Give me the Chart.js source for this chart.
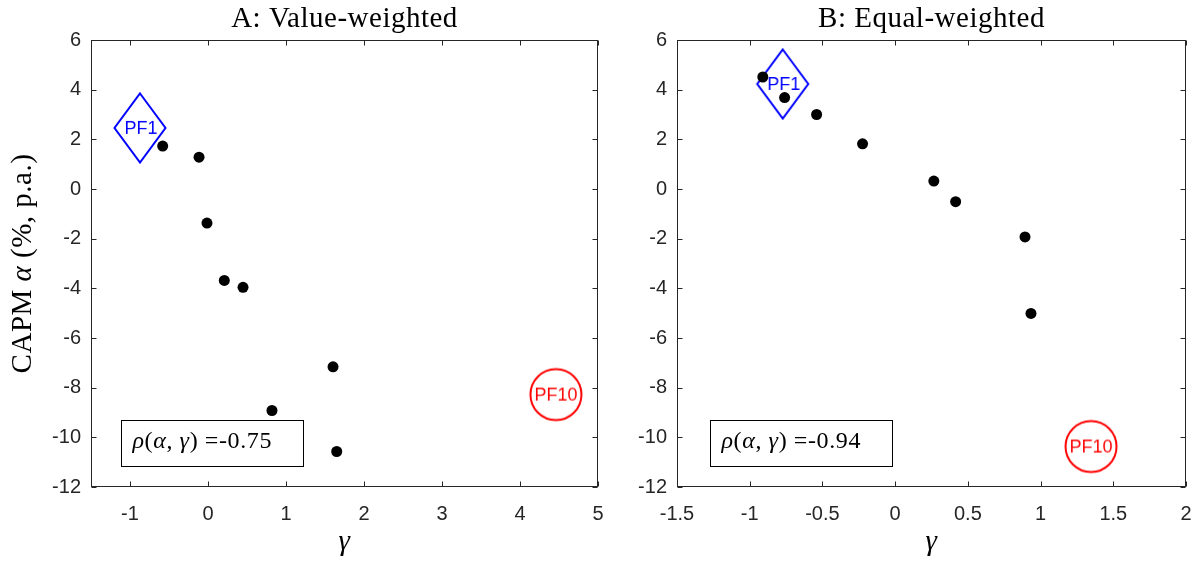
<!DOCTYPE html>
<html><head><meta charset="utf-8">
<script src="https://cdn.jsdelivr.net/npm/chart.js@4.4.1/dist/chart.umd.min.js"></script>
<style>
html,body{margin:0;padding:0;background:#fff;}
#wrap{position:relative;width:1203px;height:566px;overflow:hidden;background:#fff;}
canvas{position:absolute;top:0;}
</style></head><body>
<div id="wrap">
<canvas id="cA" width="620" height="566" style="left:0px"></canvas>
<canvas id="cB" width="603" height="566" style="left:600px"></canvas>
</div>
<script>
// ---------- DATA ----------
// Panel A: value-weighted (portfolios 2..9 as black dots)
const gammaA = [-0.581, -0.115, -0.013, 0.209, 0.449, 1.603, 0.82, 1.65];
const alphaA = [1.73, 1.28, -1.37, -3.68, -3.96, -7.16, -8.92, -10.57];
// PF1 and PF10 (gamma, alpha)
const pfGammaA = [-0.872, 4.46];
const pfAlphaA = [2.46, -8.28];
const rhoA = "-0.75";

// Panel B: equal-weighted
const gammaB = [-0.91, -0.76, -0.54, -0.224, 0.266, 0.416, 0.893, 0.934];
const alphaB = [4.51, 3.68, 3.0, 1.82, 0.32, -0.51, -1.93, -5.01];
const pfGammaB = [-0.773, 1.347];
const pfAlphaB = [4.23, -10.37];
const rhoB = "-0.94";

const pfLabels = ["PF1", "PF10"];
const titles = ["A: Value-weighted", "B: Equal-weighted"];
const xTicksA = [-1, 0, 1, 2, 3, 4, 5];
const xTicksB = [-1.5, -1, -0.5, 0, 0.5, 1, 1.5, 2];
const yTicks = [-12, -10, -8, -6, -4, -2, 0, 2, 4, 6];

// ---------- MARKER IMAGES ----------
function diamondMarker(label) {
  const c = document.createElement('canvas');
  c.width = 58; c.height = 76;
  const g = c.getContext('2d');
  const cx = 29, cy = 38, hw = 25.5, hh = 34.5;
  g.strokeStyle = '#0000ff'; g.lineWidth = 2; g.lineJoin = 'miter';
  g.beginPath();
  g.moveTo(cx, cy - hh); g.lineTo(cx + hw, cy); g.lineTo(cx, cy + hh); g.lineTo(cx - hw, cy); g.closePath();
  g.stroke();
  g.fillStyle = '#0000ff'; g.font = '18px "Liberation Sans", Arial, sans-serif';
  g.textAlign = 'center'; g.textBaseline = 'middle';
  g.fillText(label, cx + 1, cy + 1);
  return c;
}
function circleMarker(label) {
  const c = document.createElement('canvas');
  c.width = 58; c.height = 58;
  const g = c.getContext('2d');
  g.strokeStyle = '#ff0000'; g.lineWidth = 2;
  g.beginPath(); g.arc(29, 29, 25.5, 0, Math.PI * 2); g.stroke();
  g.fillStyle = '#ff0000'; g.font = '18px "Liberation Sans", Arial, sans-serif';
  g.textAlign = 'center'; g.textBaseline = 'middle';
  g.fillText(label, 29, 30);
  return c;
}

// ---------- TEXT HELPERS ----------
const SERIF = '"Liberation Serif", "Times New Roman", serif';
function segWidth(ctx, segs, size) {
  let w = 0;
  segs.forEach(s => { ctx.font = (s.it ? 'italic ' : '') + size + 'px ' + SERIF; w += ctx.measureText(s.t).width; });
  return w;
}
function drawSegs(ctx, segs, size, x, y) {
  let cx = x;
  segs.forEach(s => {
    ctx.font = (s.it ? 'italic ' : '') + size + 'px ' + SERIF;
    ctx.fillText(s.t, cx, y);
    cx += ctx.measureText(s.t).width;
  });
}

// ---------- FRAME / ANNOTATION PLUGIN ----------
const framePlugin = {
  id: 'frame',
  afterDraw(chart, args, opts) {
    const { ctx, chartArea: a, scales: { x, y } } = chart;
    ctx.save();
    // box
    ctx.strokeStyle = '#262626'; ctx.lineWidth = 1;
    const L = Math.round(a.left) + 0.5, R = Math.round(a.right) - 0.5;
    const T = Math.round(a.top) + 0.5, B = Math.round(a.bottom) - 0.5;
    ctx.strokeRect(L, T, R - L, B - T);
    const tl = 5;
    ctx.beginPath();
    x.ticks.forEach(t => {
      const px = Math.round(x.getPixelForValue(t.value)) + 0.5;
      ctx.moveTo(px, B); ctx.lineTo(px, B - tl);
      ctx.moveTo(px, T); ctx.lineTo(px, T + tl);
    });
    y.ticks.forEach(t => {
      const py = Math.round(y.getPixelForValue(t.value)) + 0.5;
      ctx.moveTo(L, py); ctx.lineTo(L + tl, py);
      ctx.moveTo(R, py); ctx.lineTo(R - tl, py);
    });
    ctx.stroke();

    // title
    ctx.fillStyle = '#000';
    ctx.textAlign = 'center'; ctx.textBaseline = 'alphabetic';
    ctx.letterSpacing = '0.5px';
    ctx.font = '29px ' + SERIF;
    ctx.fillText(opts.title, (a.left + a.right) / 2, 27);

    // x label
    ctx.font = 'italic 29px ' + SERIF;
    ctx.fillText('\u03B3', (a.left + a.right) / 2, 550);

    // y label
    if (opts.ylabel) {
      const segs = [{ t: 'CAPM ', it: false }, { t: '\u03B1', it: true }, { t: ' (%, p.a.)', it: false }];
      const w = segWidth(ctx, segs, 29);
      ctx.save();
      ctx.translate(31, (a.top + a.bottom) / 2);
      ctx.rotate(-Math.PI / 2);
      ctx.textAlign = 'left';
      drawSegs(ctx, segs, 29, -w / 2, 0);
      ctx.restore();
    }

    // correlation box
    const bw = a.right - a.left, bh = a.bottom - a.top;
    const bx = Math.round(a.left + opts.box[0] * bw) + 0.5;
    const by = Math.round(a.top + opts.box[1] * bh) + 0.5;
    const bW = Math.round(opts.box[2] * bw), bH = Math.round(opts.box[3] * bh);
    ctx.strokeStyle = '#000'; ctx.lineWidth = 1;
    ctx.fillStyle = '#fff';
    ctx.fillRect(bx, by, bW, bH);
    ctx.strokeRect(bx, by, bW, bH);
    ctx.fillStyle = '#000';
    ctx.textAlign = 'left';
    ctx.letterSpacing = '0.6px';
    const segs = [{ t: '\u03C1', it: true }, { t: '(', it: false }, { t: '\u03B1', it: true }, { t: ', ', it: false },
                  { t: '\u03B3', it: true }, { t: ') =', it: false }, { t: opts.rho, it: false }];
    drawSegs(ctx, segs, 24, bx + 11, by + 27);
    ctx.restore();
  }
};

function makePanel(id, gx, ay, pgx, pay, xMin, xMax, xTicks, yWidth, padRight, title, rho, box, ylabel) {
  const tickFont = { family: '"Liberation Sans", Arial, sans-serif', size: 20 };
  return new Chart(document.getElementById(id), {
    type: 'scatter',
    data: {
      datasets: [
        { data: gx.map((g, i) => ({ x: g, y: ay[i] })), pointStyle: 'circle', pointRadius: 5.5, pointHoverRadius: 5.5,
          backgroundColor: '#000', borderWidth: 0, clip: false },
        { data: [{ x: pgx[0], y: pay[0] }], pointStyle: diamondMarker(pfLabels[0]), pointRadius: 30, clip: false },
        { data: [{ x: pgx[1], y: pay[1] }], pointStyle: circleMarker(pfLabels[1]), pointRadius: 30, clip: false }
      ]
    },
    options: {
      responsive: false, animation: false, events: [],
      layout: { autoPadding: false, padding: { left: 0, right: padRight, top: 40, bottom: 0 } },
      plugins: { legend: { display: false }, tooltip: { enabled: false }, title: { display: false },
                 frame: { title: title, rho: rho, box: box, ylabel: ylabel } },
      scales: {
        x: {
          type: 'linear', min: xMin, max: xMax,
          afterBuildTicks: s => { s.ticks = xTicks.map(v => ({ value: v })); },
          afterFit: s => { s.height = 79; s.paddingLeft = 0; s.paddingRight = 0; },
          grid: { display: false, drawTicks: false }, border: { display: false },
          ticks: { font: tickFont, color: '#262626', padding: 15, maxRotation: 0, autoSkip: false, callback: v => String(v) }
        },
        y: {
          type: 'linear', min: -12, max: 6,
          afterBuildTicks: s => { s.ticks = yTicks.map(v => ({ value: v })); },
          afterFit: s => { s.width = yWidth; s.paddingTop = 0; s.paddingBottom = 0; },
          grid: { display: false, drawTicks: false }, border: { display: false },
          ticks: { font: tickFont, color: '#262626', padding: 10, autoSkip: false, callback: v => String(v) }
        }
      }
    },
    plugins: [framePlugin]
  });
}

makePanel('cA', gammaA, alphaA, pfGammaA, pfAlphaA, -1.5, 5, xTicksA, 91, 22, titles[0], rhoA,
          [0.0586, 0.849, 0.358, 0.102], true);
makePanel('cB', gammaB, alphaB, pfGammaB, pfAlphaB, -1.5, 2, xTicksB, 77, 17, titles[1], rhoB,
          [0.0655, 0.849, 0.357, 0.102], false);
</script>
</body></html>
